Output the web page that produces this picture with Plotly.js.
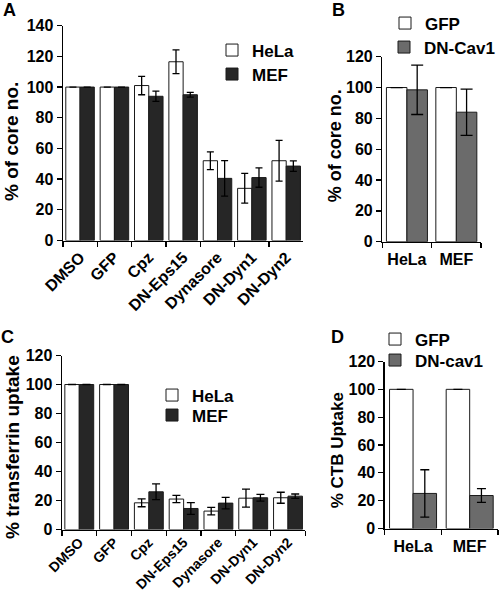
<!DOCTYPE html>
<html>
<head>
<meta charset="utf-8">
<script src="https://cdn.plot.ly/plotly-3.0.1.min.js"></script>
<style>html,body{margin:0;padding:0;background:#fff;}#chart{width:500px;height:594px;}</style>
</head>
<body>
<div id="chart"></div>
<script>
// ---- data ----
const treatments = ['DMSO','GFP','Cpz','DN-Eps15','Dynasore','DN-Dyn1','DN-Dyn2'];
const cellLines = ['HeLa','MEF'];

// Panel A: % of core no.
const coreHeLa    = [100,100,101,116.5,52,34,52];
const coreHeLaErr = [0,0,6,7.7,5.8,9.7,13.3];
const coreMEF     = [100,100,94,95,40.5,41,48.5];
const coreMEFErr  = [0,0,3.3,1.5,11.6,6.3,3.4];

// Panel B: % of core no.
const coreGFP     = [100,100];
const coreGFPErr  = [0,0];
const coreCav     = [98.5,84];
const coreCavErr  = [16,15];

// Panel C: % transferrin uptake
const trfHeLa     = [100,100,18.4,21,12.7,21.6,21.9];
const trfHeLaErr  = [0,0,2.7,2.5,2.6,6.2,3.8];
const trfMEF      = [100,100,26,14.5,18.2,21.9,23];
const trfMEFErr   = [0,0,5.4,4.1,4,2.3,1.5];

// Panel D: % CTB uptake
const ctbGFP      = [100,100];
const ctbGFPErr   = [0,0];
const ctbCav      = [25.2,23.7];
const ctbCavErr   = [17,4.9];

// ---- styles ----
const FONT = 'Liberation Sans, Arial, Helvetica, sans-serif';
const WHITE = '#ffffff', DARK = '#262626', GRAY = '#6b6b6b';
const outline = {color:'#1a1a1a', width:1};

function bar(name, x, y, err, color, xa, ya, legend, cap) {
  return {
    type:'bar', name:name, x:x, y:y, xaxis:xa, yaxis:ya, legend:legend,
    marker:{color:color, line:outline},
    error_y:{type:'data', array:err, visible:true, color:'#000', thickness:1.3, width:cap},
    hoverinfo:'skip'
  };
}

const data = [
  bar('HeLa', treatments, coreHeLa, coreHeLaErr, WHITE, 'x', 'y', 'legend', 3.5),
  bar('MEF',  treatments, coreMEF,  coreMEFErr,  DARK,  'x', 'y', 'legend2', 3.5),
  bar('GFP',     cellLines, coreGFP, coreGFPErr, WHITE, 'x2', 'y2', 'legend3', 6),
  bar('DN-Cav1', cellLines, coreCav, coreCavErr, GRAY,  'x2', 'y2', 'legend4', 6),
  bar('HeLa', treatments, trfHeLa, trfHeLaErr, WHITE, 'x3', 'y3', 'legend5', 4),
  bar('MEF',  treatments, trfMEF,  trfMEFErr,  DARK,  'x3', 'y3', 'legend6', 4),
  bar('GFP',     cellLines, ctbGFP, ctbGFPErr, WHITE, 'x4', 'y4', 'legend7', 4.5),
  bar('DN-cav1', cellLines, ctbCav, ctbCavErr, GRAY,  'x4', 'y4', 'legend8', 4.5)
];

const W = 500, H = 594;
const px = v => v / W;
const py = v => 1 - v / H;

function xax(x0, x1, anchor, angle, n, fsize, standoff) {
  return {
    domain:[px(x0), px(x1)], anchor:anchor, type:'category',
    range:[-0.5, n - 0.5], fixedrange:true,
    showline:true, linecolor:'#000', linewidth:1.3, mirror:false,
    ticks:'outside', ticklen:5, tickwidth:1.3, tickcolor:'#000',
    tickson:'boundaries', showgrid:false, zeroline:false,
    tickangle:angle, ticklabelstandoff:standoff,
    tickfont:{family:FONT, size:fsize, color:'#000', weight:'bold'}
  };
}
function yax(y0, y1, anchor, max) {
  return {
    domain:[py(y1), py(y0)], anchor:anchor, range:[0, max], dtick:20,
    showline:true, linecolor:'#000', linewidth:1.3,
    ticks:'outside', ticklen:5, tickwidth:1.3, tickcolor:'#000',
    showgrid:false, zeroline:false, fixedrange:true,
    tickfont:{family:FONT, size:16, color:'#000', weight:'bold'}
  };
}

// one legend per entry, placed by the centre of its row (px)
function leg(x, yc, size) {
  return {
    x:px(x), y:py(yc - 19.5), xanchor:'left', yanchor:'top',
    bgcolor:'rgba(0,0,0,0)', borderwidth:0,
    font:{family:FONT, size:size, color:'#000', weight:'bold'},
    itemclick:false, itemdoubleclick:false
  };
}

function ann(text, x, y, size, angle) {
  return {
    text:text, xref:'paper', yref:'paper', x:px(x), y:py(y),
    xanchor:'center', yanchor:'middle', showarrow:false, textangle:angle,
    font:{family:FONT, size:size, color:'#000', weight:'bold'}
  };
}

const layout = {
  width:W, height:H, margin:{l:0, r:0, t:0, b:0},
  paper_bgcolor:'#fff', plot_bgcolor:'rgba(0,0,0,0)',
  barmode:'group', bargap:0.17, bargroupgap:0,
  showlegend:true,
  xaxis:  xax(63, 304, 'y', -45, 7, 16, 0),
  yaxis:  yax(25.7, 240.5, 'x', 140),
  xaxis2: xax(383, 482, 'y2', 0, 2, 16, 3),
  yaxis2: yax(56.7, 241.7, 'x2', 120),
  xaxis3: xax(62, 306, 'y3', -45, 7, 14, -2),
  yaxis3: yax(355.5, 529.5, 'x3', 120),
  xaxis4: xax(385.5, 499, 'y4', 0, 2, 16, 3),
  yaxis4: yax(361.5, 528.5, 'x4', 120),
  legend:  leg(212, 52, 17),
  legend2: leg(212, 76, 17),
  legend3: leg(385, 25, 17),
  legend4: leg(385, 49, 17),
  legend5: leg(152, 397, 17),
  legend6: leg(152, 417, 17),
  legend7: leg(375, 341, 17),
  legend8: leg(375, 362, 17),
  annotations:[
    ann('A', 9.5, 10, 18, 0),
    ann('B', 339, 10, 18, 0),
    ann('C', 8, 337, 18, 0),
    ann('D', 338, 337, 18, 0),
    ann('% of core no.', 12, 141, 19, -90),
    ann('% of core no.', 336, 146, 18, -90),
    ann('% transferrin uptake', 12, 447, 19, -90),
    ann('% CTB Uptake', 338, 450, 17, -90)
  ]
};

Plotly.newPlot('chart', data, layout, {staticPlot:true, displayModeBar:false});
</script>
</body>
</html>
